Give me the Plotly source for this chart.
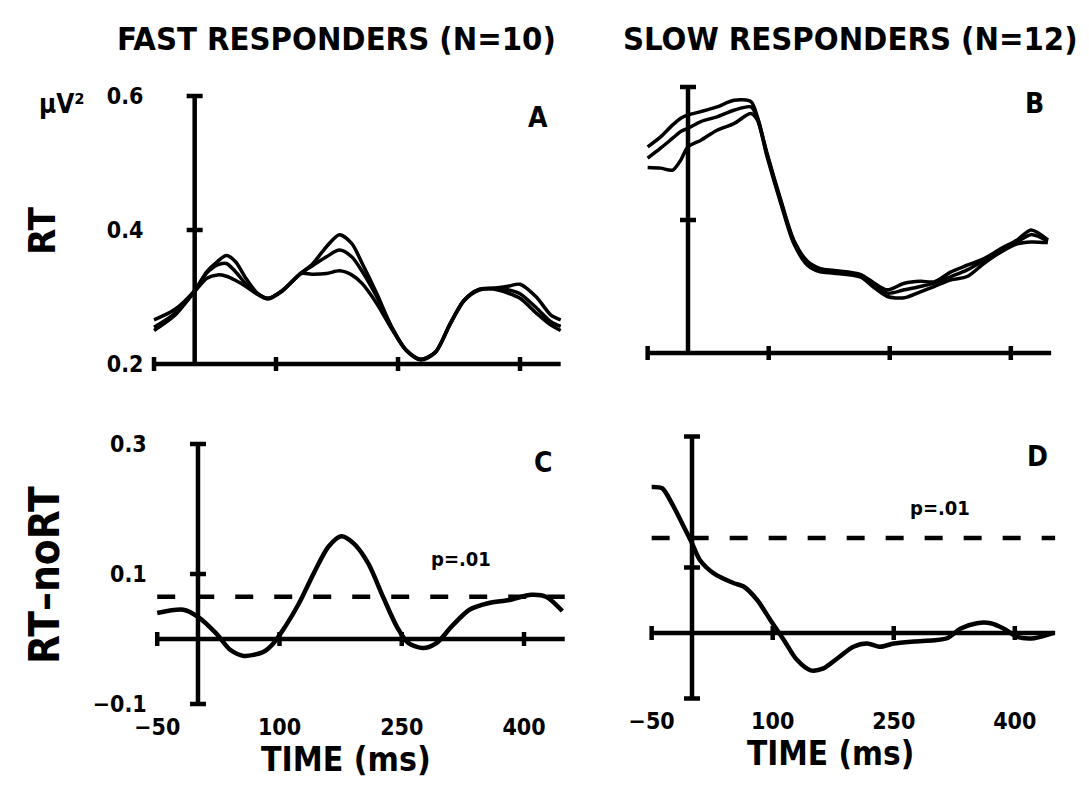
import plotly.graph_objects as go

# page body has an 8px margin, so the figure is sized to fit the window exactly
OFF = 8
FIG_W, FIG_H = 1089 - 2 * OFF, 788 - 2 * OFF
FONT = "DejaVu Sans Condensed, DejaVu Sans, sans-serif"

# ---------------- data ----------------
# Panel A: fast responders, RT condition (three traces)
time_A = [-50, -25, 0, 15, 28, 39, 50, 64, 77, 90, 108, 131, 144, 162, 178, 193, 206,
          224, 242, 260, 278, 296, 314, 331, 349, 367, 385, 400, 420, 438, 450]
fast_rt_upper = [0.266, 0.281, 0.310, 0.338, 0.353, 0.362, 0.353, 0.326, 0.306, 0.298, 0.310,
                 0.336, 0.348, 0.375, 0.393, 0.380, 0.350, 0.305, 0.256, 0.221, 0.207, 0.218,
                 0.260, 0.295, 0.311, 0.313, 0.316, 0.319, 0.300, 0.273, 0.266]
fast_rt_middle = [0.255, 0.275, 0.309, 0.336, 0.348, 0.350, 0.338, 0.318, 0.305, 0.298, 0.310,
                  0.336, 0.346, 0.360, 0.370, 0.360, 0.338, 0.300, 0.255, 0.221, 0.207, 0.218,
                  0.260, 0.295, 0.311, 0.313, 0.311, 0.305, 0.284, 0.263, 0.256]
fast_rt_lower = [0.250, 0.272, 0.308, 0.328, 0.333, 0.331, 0.325, 0.315, 0.304, 0.297, 0.309,
                 0.335, 0.334, 0.335, 0.339, 0.333, 0.320, 0.290, 0.253, 0.220, 0.206, 0.217,
                 0.259, 0.294, 0.310, 0.312, 0.306, 0.298, 0.276, 0.258, 0.250]

# Panel B: slow responders, RT condition (three traces)
time_B = [-50, -34, -19, -9, 0, 16, 36, 57, 78, 86, 98, 115, 131, 148, 164, 181, 214, 231,
          247, 268, 288, 305, 326, 346, 367, 388, 408, 425, 446]
slow_rt_upper = [0.510, 0.525, 0.543, 0.553, 0.558, 0.563, 0.570, 0.580, 0.578, 0.555, 0.500,
                 0.430, 0.370, 0.338, 0.327, 0.324, 0.318, 0.305, 0.295, 0.305, 0.308, 0.307,
                 0.322, 0.332, 0.342, 0.357, 0.370, 0.385, 0.370]
slow_rt_middle = [0.493, 0.508, 0.523, 0.533, 0.538, 0.548, 0.555, 0.565, 0.570, 0.553, 0.498,
                  0.428, 0.368, 0.335, 0.325, 0.322, 0.316, 0.302, 0.290, 0.295, 0.300, 0.305,
                  0.315, 0.325, 0.340, 0.355, 0.367, 0.378, 0.368]
slow_rt_lower = [0.479, 0.478, 0.475, 0.490, 0.510, 0.520, 0.535, 0.545, 0.560, 0.550, 0.495,
                 0.425, 0.365, 0.332, 0.322, 0.320, 0.314, 0.298, 0.285, 0.283, 0.292, 0.300,
                 0.310, 0.315, 0.335, 0.352, 0.364, 0.367, 0.366]

# Panel C: fast responders, RT - noRT difference
time_C = [-50, -18, 0, 22, 40, 56, 80, 93, 107, 124, 142, 160, 176, 191, 209, 227, 244, 258,
          276, 293, 311, 333, 356, 382, 409, 427, 447]
fast_diff = [0.040, 0.045, 0.034, 0.009, -0.017, -0.026, -0.020, -0.006, 0.019, 0.055, 0.101,
             0.142, 0.158, 0.147, 0.116, 0.065, 0.019, -0.006, -0.014, -0.006, 0.019, 0.045,
             0.055, 0.060, 0.068, 0.065, 0.043]

# Panel D: slow responders, RT - noRT difference
time_D = [-50, -37, -25, -10, 0, 10, 27, 52, 64, 81, 97, 114, 130, 147, 163, 180, 200, 217,
          233, 250, 275, 300, 316, 333, 353, 370, 386, 403, 424, 448]
slow_diff = [0.223, 0.221, 0.198, 0.162, 0.137, 0.111, 0.091, 0.076, 0.071, 0.050, 0.020,
             -0.011, -0.041, -0.057, -0.054, -0.039, -0.021, -0.016, -0.021, -0.016, -0.013,
             -0.011, -0.008, 0.007, 0.015, 0.015, 0.007, -0.006, -0.008, 0.000]

# p = .01 significance thresholds
threshold_C = 0.065
threshold_D = 0.145

# axis definitions
time_span = [-50, 450]
time_ticks = [100, 250, 400]
time_labelvals = [-50, 100, 250, 400]
time_labels = ["−50", "100", "250", "400"]
rt_span = [0.2, 0.6]
rt_ticks = [0.4]
rt_labelvals = [0.2, 0.4, 0.6]
rt_labels = ["0.2", "0.4", "0.6"]
diff_span = [-0.1, 0.3]
diff_ticks = [0.1]
diff_labelvals = [-0.1, 0.1, 0.3]
diff_labels = ["−0.1", "0.1", "0.3"]


def px(x):
    return (x - OFF) / FIG_W


def py(y):
    return 1 - (y - OFF) / FIG_H


fig = go.Figure()

panels = {
    "A": dict(xa="x", ya="y", xd=[147.5, 567.2], yd=[374.05, 85.95],
              xr=[-58, 458], yr=[0.185, 0.615]),
    "B": dict(xa="x2", ya="y2", xd=[641.2, 1057.6], yd=[363.0, 77.0],
              xr=[-58, 458], yr=[0.185, 0.615]),
    "C": dict(xa="x3", ya="y3", xd=[150.7, 571.3], yd=[713.75, 434.25],
              xr=[-58, 458], yr=[-0.115, 0.315]),
    "D": dict(xa="x4", ya="y4", xd=[645.2, 1061.6], yd=[708.3, 426.7],
              xr=[-58, 458], yr=[-0.115, 0.315]),
}

LW_CURVE_AB = 3.5
LW_CURVE_CD = 4.5
LW_AXIS = 4.5


def curve(t, v, p, w):
    fig.add_trace(go.Scatter(x=t, y=v, mode="lines", xaxis=p["xa"], yaxis=p["ya"],
                             line=dict(color="black", width=w, shape="spline", smoothing=0.8),
                             showlegend=False, hoverinfo="skip"))


for yv in [fast_rt_upper, fast_rt_middle, fast_rt_lower]:
    curve(time_A, yv, panels["A"], LW_CURVE_AB)
for yv in [slow_rt_upper, slow_rt_middle, slow_rt_lower]:
    curve(time_B, yv, panels["B"], LW_CURVE_AB)
curve(time_C, fast_diff, panels["C"], LW_CURVE_CD)
curve(time_D, slow_diff, panels["D"], LW_CURVE_CD)

# threshold dashed lines
for name, thr in [("C", threshold_C), ("D", threshold_D)]:
    p = panels[name]
    fig.add_trace(go.Scatter(x=time_span, y=[thr, thr], mode="lines", xaxis=p["xa"], yaxis=p["ya"],
                             line=dict(color="black", width=4.5, dash="18px,21px"),
                             showlegend=False, hoverinfo="skip"))

shapes = []


def axis_shapes(p, base, vspan, vticks, caps_bottom):
    xr, yr = p["xa"], p["ya"]
    line = dict(color="black", width=LW_AXIS)
    # horizontal time axis
    shapes.append(dict(type="line", xref=xr, yref=yr, x0=time_span[0], x1=time_span[1],
                       y0=base, y1=base, line=line))
    # left end cap and ticks on the time axis
    for t in [time_span[0]] + time_ticks:
        shapes.append(dict(type="line", xref=xr, yref=yr, x0=t, x1=t, ysizemode="pixel",
                           yanchor=base, y0=-7, y1=7, line=line))
    # vertical axis at time 0
    shapes.append(dict(type="line", xref=xr, yref=yr, x0=0, x1=0, y0=vspan[0], y1=vspan[1], line=line))
    capvals = [vspan[1]] + ([vspan[0]] if caps_bottom else [])
    for v in capvals + vticks:
        shapes.append(dict(type="line", xref=xr, yref=yr, y0=v, y1=v, xsizemode="pixel",
                           xanchor=0, x0=-8, x1=8, line=line))


axis_shapes(panels["A"], rt_span[0], rt_span, rt_ticks, False)
axis_shapes(panels["B"], rt_span[0], rt_span, rt_ticks, False)
axis_shapes(panels["C"], 0, diff_span, diff_ticks, True)
axis_shapes(panels["D"], 0, diff_span, diff_ticks, True)

tickfont = dict(family=FONT, size=23, color="black", weight="bold")


def xaxis_cfg(p, labels, standoff, anchor):
    return dict(domain=[px(p["xd"][0]), px(p["xd"][1])], range=p["xr"], showgrid=False,
                zeroline=False, showline=False, ticks="", fixedrange=True, automargin=False,
                showticklabels=labels, tickvals=time_labelvals, ticktext=time_labels,
                tickfont=tickfont, ticklabelstandoff=standoff, anchor=anchor)


def yaxis_cfg(p, labels, vals, texts, anchor):
    return dict(domain=[py(p["yd"][0]), py(p["yd"][1])], range=p["yr"], showgrid=False,
                zeroline=False, showline=False, ticks="", fixedrange=True, automargin=False,
                showticklabels=labels, tickvals=vals, ticktext=texts, tickfont=tickfont,
                ticklabelstandoff=3, anchor=anchor)


A, B, C, D = panels["A"], panels["B"], panels["C"], panels["D"]
fig.update_layout(
    xaxis=xaxis_cfg(A, False, 0, "y"),
    yaxis=yaxis_cfg(A, True, rt_labelvals, rt_labels, "x"),
    xaxis2=xaxis_cfg(B, False, 0, "y2"),
    yaxis2=yaxis_cfg(B, False, rt_labelvals, rt_labels, "x2"),
    xaxis3=xaxis_cfg(C, True, -3, "y3"),
    yaxis3=yaxis_cfg(C, True, diff_labelvals, diff_labels, "x3"),
    xaxis4=xaxis_cfg(D, True, -3, "y4"),
    yaxis4=yaxis_cfg(D, False, diff_labelvals, diff_labels, "x4"),
)


def ann(text, x, y, size, angle=0):
    return dict(text=text, x=px(x), y=py(y), xref="paper", yref="paper", showarrow=False,
                xanchor="center", yanchor="middle", textangle=angle,
                font=dict(family=FONT, size=size, color="black", weight="bold"))


annotations = [
    ann("FAST RESPONDERS (N=10)", 336, 39, 32.5),
    ann("SLOW RESPONDERS (N=12)", 850, 39, 32.5),
    ann("μV²", 62, 104, 26),
    ann("RT", 42, 231, 38, -90),
    ann("RT–noRT", 44, 575, 42, -90),
    ann("A", 538, 117, 28),
    ann("B", 1034, 103, 28),
    ann("C", 543, 462, 28),
    ann("D", 1037, 457, 28),
    ann("p=.01", 461, 559, 20),
    ann("p=.01", 940, 508, 20),
    ann("TIME (ms)", 346, 759, 33.5),
    ann("TIME (ms)", 830, 753, 33),
]

fig.update_layout(
    width=FIG_W, height=FIG_H, margin=dict(l=0, r=0, t=0, b=0),
    paper_bgcolor="white", plot_bgcolor="white",
    shapes=shapes, annotations=annotations, showlegend=False,
)

fig.write_html("out.html")
